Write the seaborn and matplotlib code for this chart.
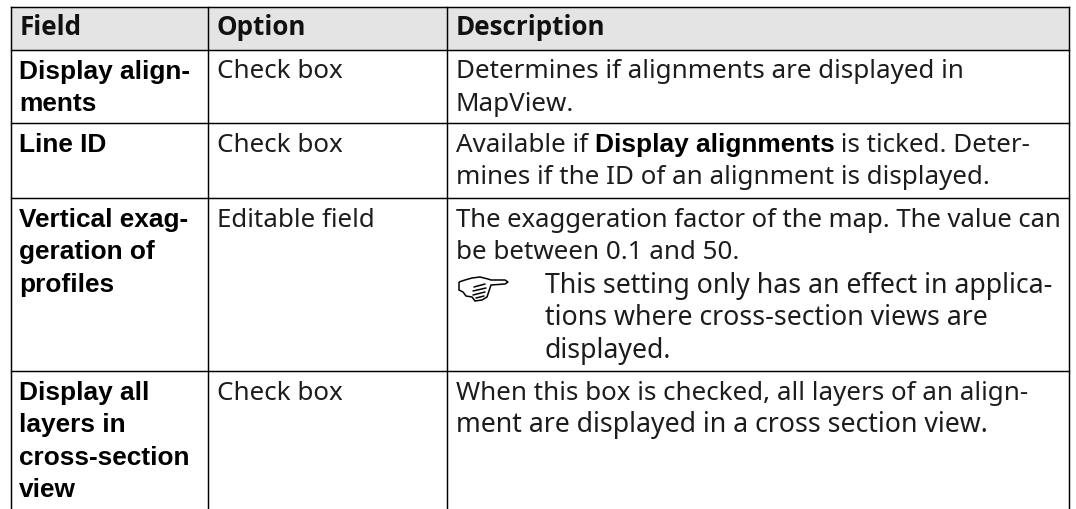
import pandas as pd
import seaborn as sns
import matplotlib.pyplot as plt
from matplotlib.path import Path
from matplotlib.patches import PathPatch

W, H = 1076, 510

headers = ['Field', 'Option', 'Description']
fields = [
    ['Display align-', 'ments'],
    ['Line ID'],
    ['Vertical exag-', 'geration of', 'profiles'],
    ['Display all', 'layers in', 'cross-section', 'view'],
]
options = ['Check box', 'Check box', 'Editable field', 'Check box']
descriptions = [
    ['Determines if alignments are displayed in', 'MapView.'],
    [],
    ['The exaggeration factor of the map. The value can', 'be between 0.1 and 50.'],
    ['When this box is checked, all layers of an align-', 'ment are displayed in a cross section view.'],
]
note_lines = ['This setting only has an effect in applica-',
              'tions where cross-section views are',
              'displayed.']
line_id_prefix = 'Available if '
line_id_bold = 'Display alignments'
line_id_suffix = ' is ticked. Deter-'
line_id_second = 'mines if the ID of an alignment is displayed.'

col_edges = [10.5, 208, 447, 1069]
row_edges = [7.5, 50.5, 124, 199, 372]

sns.set_theme(style='white')
plt.rcParams['font.family'] = ['Noto Sans', 'DejaVu Sans']

fig = plt.figure(figsize=(W / 100, H / 100), dpi=100)
ax = fig.add_axes([0, 0, 1, 1])

# one-row heatmap just to keep the grey header band in seaborn
sns.heatmap(pd.DataFrame([[1, 1, 1]]), ax=ax, cbar=False, cmap=['#e4e4e4'],
            xticklabels=False, yticklabels=False)
ax.collections[0].remove()
ax.set_xlim(0, W)
ax.set_ylim(H, 0)
ax.axis('off')
ax.fill_between([col_edges[0], col_edges[-1]], row_edges[0], row_edges[1],
                color='#e4e4e4', lw=0, zorder=0)

for y in row_edges:
    ax.plot([col_edges[0], col_edges[-1]], [y, y], color='black', lw=1.05, zorder=2, solid_capstyle='projecting')
for x in col_edges:
    ax.plot([x, x], [row_edges[0], H], color='black', lw=1.05, zorder=2, solid_capstyle='projecting')

FS = 18.7
FSB = 18.9
FS_NOTE = 19.2
LH = 32.5
sans = ['Noto Sans', 'DejaVu Sans']
arial = ['Liberation Sans', 'DejaVu Sans']
dark = '#1c1c1c'

# some lines in the original have tighter or looser word spacing
line_sizes = {'The exaggeration factor of the map. The value can': 18.5,
              'ment are displayed in a cross section view.': 19.2}

for x, h in zip(col_edges, headers):
    ax.text(x + 9, 35, h, fontsize=FS, fontweight='bold', family=['Open Sans', 'DejaVu Sans'], color='#111111')

for i, top in enumerate(row_edges[1:]):
    for j, line in enumerate(fields[i]):
        ax.text(19, top + 28 + j * LH, line, fontsize=FSB, fontweight='bold', family=arial, color='black')
    ax.text(217, top + 28, options[i], fontsize=FS, family=sans, color=dark)
    for j, line in enumerate(descriptions[i]):
        ax.text(456, top + 28 + j * LH, line, fontsize=line_sizes.get(line, FS), family=sans, color=dark)

t = ax.text(456, row_edges[2] + 28, line_id_prefix, fontsize=FS, family=sans, color=dark)
fig.canvas.draw()
rend = fig.canvas.get_renderer()
x0 = t.get_window_extent(rend).x1
t2 = ax.text(x0, row_edges[2] + 28, line_id_bold, fontsize=FSB, fontweight='bold', family=arial, color='black')
x1 = t2.get_window_extent(rend).x1
ax.text(x1, row_edges[2] + 28, line_id_suffix, fontsize=FS, family=sans, color=dark)
ax.text(456, row_edges[2] + 28 + LH, line_id_second, fontsize=FS, family=sans, color=dark)

for j, line in enumerate(note_lines):
    ax.text(545, 293 + j * LH, line, fontsize=FS_NOTE, family=sans, color=dark)

# pointing hand icon
outline = [(459, 283), (465, 281), (472, 279), (480, 278), (488, 280), (491, 281), (505, 281),
           (508, 283), (505, 285), (491, 286), (489, 292), (487, 298), (482, 301), (475, 302),
           (472, 298), (466, 297), (463, 293), (459, 291), (459, 283)]
ax.add_patch(PathPatch(Path(outline), fill=False, edgecolor='black', lw=1.1, zorder=3))
for seg in ([(474, 288), (485, 285)], [(473, 292), (486, 289)], [(473, 296), (485, 293)], [(476, 299), (484, 297)]):
    ax.plot(*zip(*seg), color='black', lw=1.1, zorder=3)

fig.savefig('out.png', dpi=100)
